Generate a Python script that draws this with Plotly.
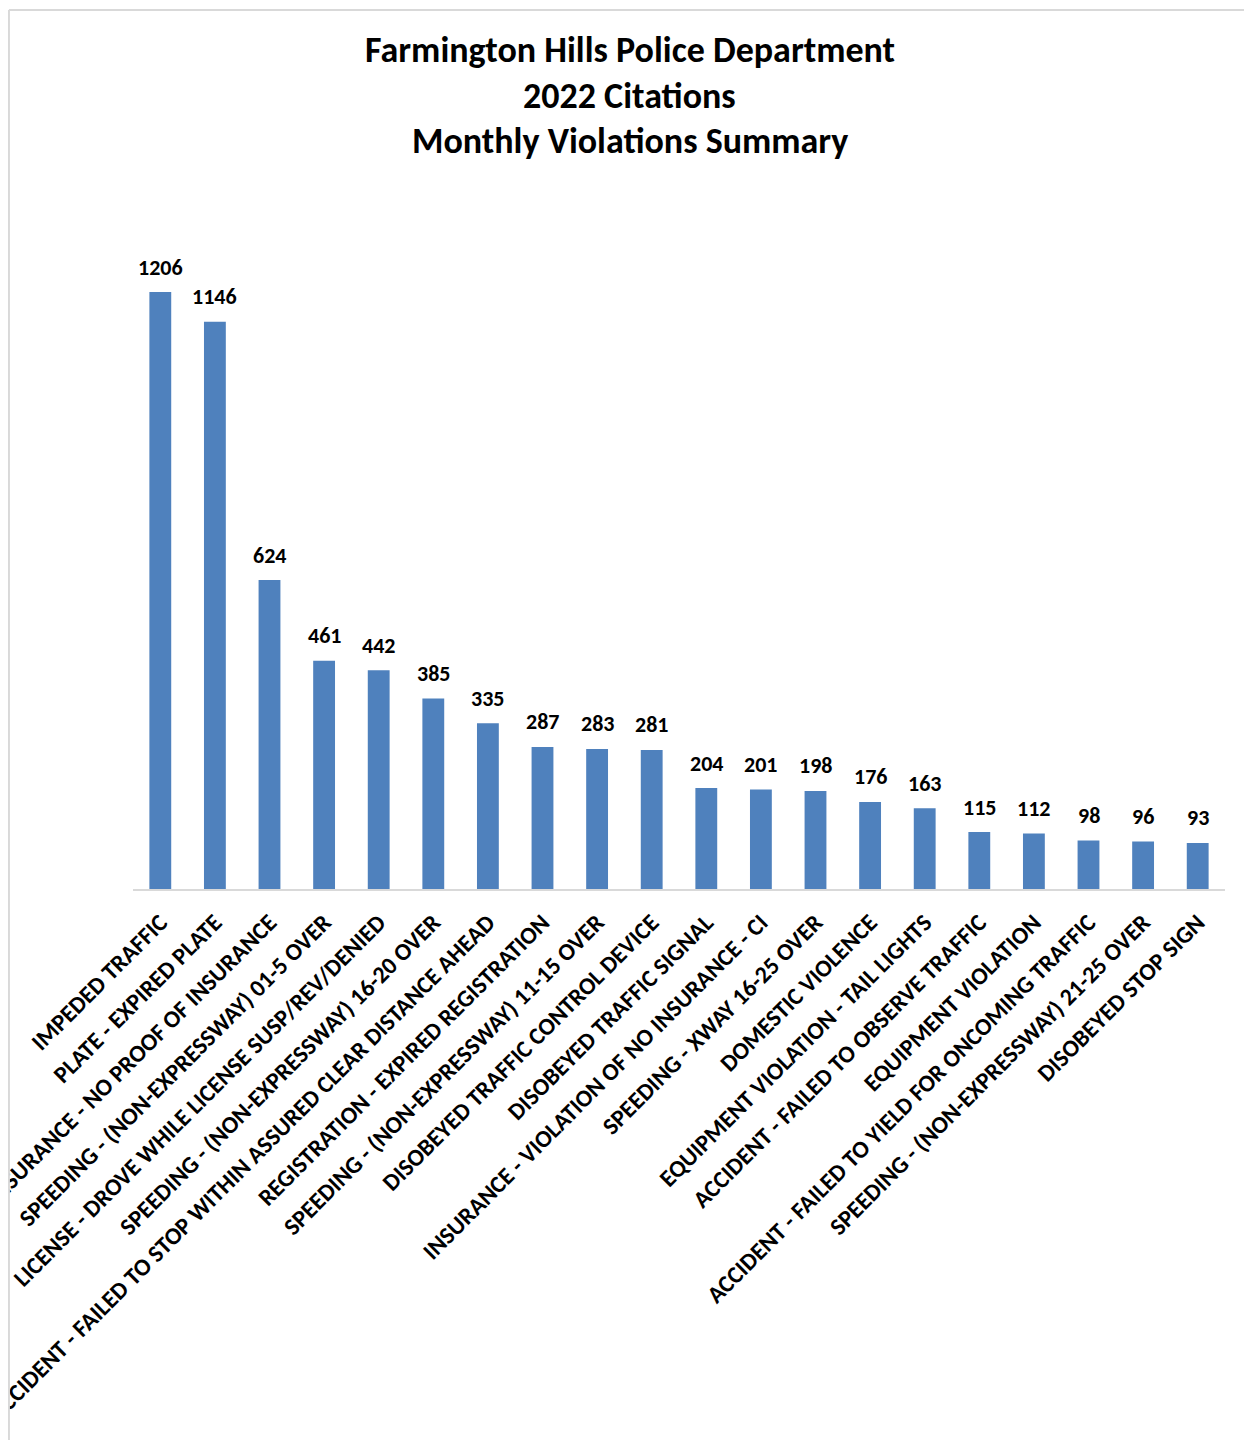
import plotly.graph_objects as go

# violaciones 2022 ordenadas de mayor a menor
violations = [
    "IMPEDED TRAFFIC",
    "PLATE - EXPIRED PLATE",
    "INSURANCE - NO PROOF OF INSURANCE",
    "SPEEDING - (NON-EXPRESSWAY) 01-5 OVER",
    "LICENSE - DROVE WHILE LICENSE SUSP/REV/DENIED",
    "SPEEDING - (NON-EXPRESSWAY) 16-20 OVER",
    "ACCIDENT - FAILED TO STOP WITHIN ASSURED CLEAR DISTANCE AHEAD",
    "REGISTRATION - EXPIRED REGISTRATION",
    "SPEEDING - (NON-EXPRESSWAY) 11-15 OVER",
    "DISOBEYED TRAFFIC CONTROL DEVICE",
    "DISOBEYED TRAFFIC SIGNAL",
    "INSURANCE - VIOLATION OF NO INSURANCE - CI",
    "SPEEDING - XWAY 16-25 OVER",
    "DOMESTIC VIOLENCE",
    "EQUIPMENT VIOLATION - TAIL LIGHTS",
    "ACCIDENT - FAILED TO OBSERVE TRAFFIC",
    "EQUIPMENT VIOLATION",
    "ACCIDENT - FAILED TO YIELD FOR ONCOMING TRAFFIC",
    "SPEEDING - (NON-EXPRESSWAY) 21-25 OVER",
    "DISOBEYED STOP SIGN",
]
citations = [1206, 1146, 624, 461, 442, 385, 335, 287, 283, 281,
             204, 201, 198, 176, 163, 115, 112, 98, 96, 93]

title_lines = ["Farmington Hills Police Department", "2022 Citations", "Monthly Violations Summary"]

FONT = "Carlito, Calibri, Lato, sans-serif"

fig = go.Figure(go.Bar(
    x=violations, y=citations,
    marker=dict(color="#4F81BD", line=dict(width=0)),
    hoverinfo="x+y",
))

# etiquetas de valor sobre cada barra
for v, c in zip(violations, citations):
    fig.add_annotation(x=v, y=c, text=str(c), showarrow=False, yanchor="middle", yshift=25,
                       font=dict(family=FONT, size=22, color="black", weight="bold"))

# titulo en tres lineas
for line, ypos in zip(title_lines, [1.2107, 1.1443, 1.0794]):
    fig.add_annotation(text=line, x=0.455, xref="paper", y=ypos, yref="paper",
                       xanchor="center", yanchor="middle", showarrow=False,
                       font=dict(family=FONT, size=36, color="black", weight="bold"))

fig.update_layout(
    width=1252, height=1440,
    paper_bgcolor="white", plot_bgcolor="white",
    margin=dict(l=125, r=35, t=188, b=559, autoexpand=False),
    bargap=0.6,
    showlegend=False,
    font=dict(family=FONT, color="black"),
    shapes=[
        dict(type="line", xref="paper", yref="paper", x0=-0.1136, x1=1.05, y0=1.2684, y1=1.2684,
             line=dict(color="#D9D9D9", width=2)),
        dict(type="line", xref="paper", yref="paper", x0=-0.1136, x1=-0.1136, y0=1.2684, y1=-0.81,
             line=dict(color="#D9D9D9", width=2)),
    ],
)

fig.update_xaxes(
    tickangle=-45, automargin=False, showline=True, linecolor="#D9D9D9", linewidth=2,
    showgrid=False, ticks="", ticklabelstandoff=8,
    tickfont=dict(family=FONT, size=24, color="black", weight="bold"),
)
fig.update_yaxes(range=[0, 1400], visible=False, showgrid=False)

fig.write_html("out.html")
